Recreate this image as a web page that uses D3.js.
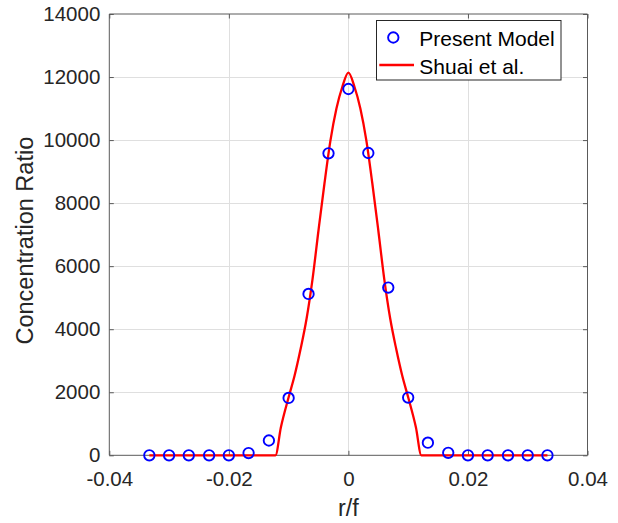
<!DOCTYPE html>
<html>
<head>
<meta charset="utf-8">
<script src="https://cdn.jsdelivr.net/npm/d3@7/dist/d3.min.js"></script>
<style>
  html, body { margin: 0; padding: 0; background: #fff; }
  svg { display: block; font-family: "Liberation Sans", Arial, Helvetica, sans-serif; }
</style>
</head>
<body>
<svg id="chart" width="618" height="523"></svg>
<script>
// Present model: sampled concentration ratio along r/f
const modelR = [-0.0333, -0.0300, -0.0267, -0.0233, -0.0200, -0.0167, -0.0133, -0.0100, -0.00667, -0.00333,
                0, 0.00333, 0.00667, 0.0100, 0.0133, 0.0167, 0.0200, 0.0233, 0.0267, 0.0300, 0.0333];
const modelValues = [0, 0, 0, 0, 0, 70, 470, 1820, 5120, 9580,
                     11620, 9590, 5320, 1830, 400, 80, 0, 0, 0, 0, 0];

// Reference profile (Shuai et al.)
const shuaiR = [-0.0333, -0.0122, -0.0113, -0.0100, -0.0090, -0.0080, -0.0070, -0.0060, -0.0050, -0.0040,
                -0.0030, -0.0020, -0.0010, 0, 0.0010, 0.0020, 0.0030, 0.0040, 0.0050, 0.0060,
                0.0070, 0.0080, 0.0090, 0.0100, 0.0113, 0.0122, 0.0333];
const shuaiValues = [0, 0, 880, 1840, 2530, 3370, 4330, 5590, 7140, 8630,
                     9990, 11000, 11700, 12140, 11700, 11000, 9990, 8630, 7140, 5590,
                     4330, 3370, 2530, 1840, 880, 0, 0];

const xTicks = [-0.04, -0.02, 0, 0.02, 0.04];
const yTicks = [0, 2000, 4000, 6000, 8000, 10000, 12000, 14000];
const legendLabels = ["Present Model", "Shuai et al."];

const svg = d3.select("#chart");
const plot = { left: 109.3, right: 587.5, top: 14, bottom: 455.3 };

const x = d3.scaleLinear().domain([-0.04, 0.04]).range([plot.left, plot.right]);
const y = d3.scaleLinear().domain([0, 14000]).range([plot.bottom, plot.top]);

const textColor = "#262626";
// plain hyphen-minus for negative tick labels
const fmtX = v => (v === 0 ? "0" : d3.format(".2f")(v).replace("\u2212", "-"));

// grid
const grid = svg.append("g").attr("stroke", "#dfdfdf").attr("stroke-width", 1);
grid.selectAll("line.gx").data(xTicks.slice(1, -1)).join("line")
  .attr("x1", d => Math.round(x(d)) + 0.5).attr("x2", d => Math.round(x(d)) + 0.5)
  .attr("y1", plot.top).attr("y2", plot.bottom);
grid.selectAll("line.gy").data(yTicks.slice(1, -1)).join("line")
  .attr("y1", d => Math.round(y(d)) + 0.5).attr("y2", d => Math.round(y(d)) + 0.5)
  .attr("x1", plot.left).attr("x2", plot.right);

// axes (inward ticks, box style)
const tickLen = 4.5;
const axisColor = "#5a5a5a";
const xAxisB = d3.axisBottom(x).tickValues(xTicks).tickSize(-tickLen).tickPadding(16).tickFormat(fmtX);
const xAxisT = d3.axisTop(x).tickValues(xTicks).tickSize(-tickLen).tickFormat("");
const yAxisL = d3.axisLeft(y).tickValues(yTicks).tickSize(-tickLen).tickPadding(9).tickFormat(d3.format("d"));
const yAxisR = d3.axisRight(y).tickValues(yTicks).tickSize(-tickLen).tickFormat("");

function styleAxis(g) {
  g.select(".domain").attr("stroke", axisColor).attr("stroke-width", 1);
  g.selectAll(".tick line").attr("stroke", axisColor);
  g.selectAll(".tick text").attr("fill", textColor).attr("font-size", "20.5px")
    .attr("font-family", "'Liberation Sans', Arial, sans-serif");
}

svg.append("g").attr("transform", `translate(0,${plot.bottom})`).call(xAxisB).call(styleAxis)
  .call(g => g.select(".domain").attr("d", `M${plot.left},0H${plot.right}`))
  .call(g => g.selectAll(".tick text").attr("dy", "0.71em"));
svg.append("g").attr("transform", `translate(0,${plot.top})`).call(xAxisT).call(styleAxis)
  .call(g => g.select(".domain").attr("d", `M${plot.left},0H${plot.right}`));
svg.append("g").attr("transform", `translate(${plot.left},0)`).call(yAxisL).call(styleAxis)
  .call(g => g.select(".domain").attr("d", `M0,${plot.top}V${plot.bottom}`));
svg.append("g").attr("transform", `translate(${plot.right},0)`).call(yAxisR).call(styleAxis)
  .call(g => g.select(".domain").attr("d", `M0,${plot.top}V${plot.bottom}`));

// axis titles
svg.append("text")
  .attr("x", x(0)).attr("y", 516)
  .attr("text-anchor", "middle").attr("fill", textColor).attr("font-size", "23.5px")
  .text("r/f");
svg.append("text")
  .attr("transform", `translate(32.7,${(plot.top + plot.bottom) / 2 + 6}) rotate(-90)`)
  .attr("text-anchor", "middle").attr("fill", textColor).attr("font-size", "23.5px")
  .text("Concentration Ratio");

// Shuai et al. line
const shuai = shuaiR.map((r, i) => ({ r, v: shuaiValues[i] }));
const line = d3.line().x(d => x(d.r)).y(d => y(d.v)).curve(d3.curveMonotoneX);
svg.append("path").datum(shuai)
  .attr("fill", "none").attr("stroke", "#ff0000").attr("stroke-width", 2.3)
  .attr("stroke-linejoin", "round")
  .attr("d", line);

// Present model markers
const markerR = 5.2, markerW = 1.9;
const model = modelR.map((r, i) => ({ r, v: modelValues[i] }));
svg.append("g").selectAll("circle").data(model).join("circle")
  .attr("cx", d => x(d.r)).attr("cy", d => y(d.v)).attr("r", markerR)
  .attr("fill", "none").attr("stroke", "#0000ff").attr("stroke-width", markerW);

// legend
const lg = svg.append("g");
lg.append("rect").attr("x", 376.5).attr("y", 20.5).attr("width", 184.5).attr("height", 59.5)
  .attr("fill", "#fff").attr("stroke", "#262626").attr("stroke-width", 1);
lg.append("circle").attr("cx", 393.3).attr("cy", 37.5).attr("r", markerR)
  .attr("fill", "none").attr("stroke", "#0000ff").attr("stroke-width", markerW);
lg.append("line").attr("x1", 379.3).attr("x2", 414).attr("y1", 65).attr("y2", 65)
  .attr("stroke", "#ff0000").attr("stroke-width", 2.3);
lg.selectAll("text").data(legendLabels).join("text")
  .attr("x", 419.3).attr("y", (d, i) => i === 0 ? 45.7 : 74.3)
  .attr("fill", "#000").attr("font-size", "21px")
  .text(d => d);
</script>
</body>
</html>
